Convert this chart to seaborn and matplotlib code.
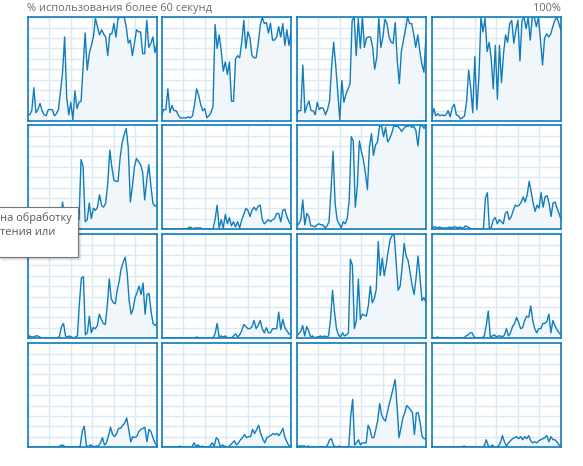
import numpy as np
import pandas as pd
import matplotlib
matplotlib.use("Agg")
import matplotlib.pyplot as plt
import seaborn as sns
from matplotlib.patches import Rectangle

# % загрузки логических процессоров за 60 секунд, по строкам сетки 4x4
cpu0 = [6, 6, 10, 32, 8, 11, 17, 10, 6, 5, 11, 11, 11, 5, 7, 11, 29, 47, 81, 23, 6, 18, 1, 29, 12, 18, 19,
        52, 85, 49, 65, 73, 81, 99, 91, 83, 88, 84, 81, 63, 84, 84, 94, 81, 99, 100, 100, 100, 91, 75,
        78, 63, 75, 88, 86, 86, 65, 65, 97, 71, 75, 81, 66, 75]
cpu1 = [6, 11, 11, 31, 8, 15, 10, 10, 6, 3, 3, 3, 3, 4, 3, 5, 16, 31, 25, 16, 10, 12, 3, 5, 8, 14, 93, 70,
        83, 68, 48, 57, 45, 57, 19, 19, 60, 63, 61, 76, 97, 70, 86, 80, 63, 61, 61, 74, 92, 100, 94, 95,
        85, 94, 78, 78, 81, 91, 81, 94, 73, 88, 73, 86]
cpu2 = [6, 10, 10, 54, 8, 15, 19, 10, 10, 6, 18, 11, 13, 12, 6, 11, 19, 52, 76, 54, 28, 1, 39, 18, 26, 31,
        36, 97, 100, 63, 99, 70, 100, 71, 80, 81, 81, 71, 50, 61, 99, 71, 81, 98, 94, 81, 76, 75, 95, 58,
        36, 67, 78, 88, 100, 94, 94, 84, 71, 83, 67, 55, 47, 83]
cpu3 = [2, 12, 5, 7, 5, 6, 5, 6, 10, 4, 13, 16, 6, 5, 2, 3, 5, 19, 49, 32, 8, 62, 11, 42, 100, 86, 99, 67,
        76, 60, 31, 73, 21, 73, 37, 65, 83, 76, 94, 97, 75, 88, 97, 58, 97, 100, 89, 100, 78, 100, 100,
        91, 100, 78, 54, 80, 84, 81, 84, 91, 97, 100, 94, 87]
cpu4 = [2, 2, 3, 2, 2, 3, 2, 4, 3, 5, 3, 4, 3, 5, 6, 5, 8, 26, 8, 5, 6, 5, 6, 8, 10, 9, 67, 60, 7, 9, 25,
        10, 20, 18, 21, 33, 23, 21, 25, 44, 76, 60, 47, 46, 46, 68, 83, 91, 97, 78, 26, 41, 60, 68, 65,
        62, 55, 28, 47, 62, 42, 25, 22, 23]
cpu5 = [0, 0, 0, 0, 0, 0, 0, 0, 0, 0, 0, 0, 0, 1, 2, 0, 1, 1, 1, 1, 0, 0, 0, 0, 0, 0, 9, 23, 1, 9, 1, 14,
        5, 11, 3, 7, 2, 7, 1, 9, 14, 20, 18, 12, 18, 21, 18, 22, 23, 9, 5, 7, 9, 7, 9, 10, 15, 15, 7,
        18, 19, 12, 7, 4]
cpu6 = [3, 5, 9, 28, 4, 15, 12, 3, 3, 2, 4, 5, 4, 4, 1, 3, 7, 38, 75, 25, 9, 5, 1, 7, 5, 10, 28, 89, 85,
        21, 41, 85, 75, 67, 54, 38, 79, 92, 71, 81, 84, 99, 99, 89, 98, 84, 87, 92, 99, 99, 99, 97, 94,
        97, 99, 99, 100, 98, 99, 95, 80, 99, 100, 97, 100]
cpu7 = [1, 2, 2, 1, 2, 1, 1, 1, 1, 2, 1, 2, 2, 1, 2, 1, 1, 3, 2, 1, 0, 0, 0, 0, 0, 0, 0, 30, 35, 0, 2, 9,
        11, 5, 9, 7, 5, 15, 17, 9, 12, 18, 23, 22, 23, 26, 31, 26, 33, 46, 36, 25, 17, 23, 20, 35, 21,
        31, 32, 25, 12, 25, 26, 20, 15, 9]
cpu8 = [0, 2, 1, 1, 2, 2, 1, 0, 0, 0, 0, 0, 0, 0, 0, 0, 2, 11, 14, 2, 1, 2, 1, 0, 1, 2, 34, 58, 59, 3,
        5, 21, 5, 10, 9, 12, 23, 18, 14, 13, 31, 57, 38, 34, 33, 46, 55, 67, 73, 78, 63, 36, 23, 28, 39,
        44, 50, 42, 53, 23, 42, 43, 26, 14, 12, 14]
cpu9 = [0, 0, 0, 0, 0, 0, 0, 0, 0, 0, 0, 0, 0, 0, 0, 0, 0, 1, 0, 0, 0, 0, 0, 0, 0, 0, 4, 14, 1, 2, 1, 2,
        0, 0, 0, 2, 4, 1, 3, 7, 13, 11, 9, 9, 11, 17, 9, 12, 17, 9, 5, 10, 5, 5, 9, 9, 9, 25, 8, 18, 10,
        7, 4, 3]
cpu10 = [2, 4, 6, 12, 2, 11, 7, 1, 2, 0, 1, 1, 2, 1, 2, 1, 2, 18, 46, 25, 9, 3, 1, 5, 2, 3, 5, 76, 70,
         9, 17, 57, 18, 23, 22, 21, 31, 50, 34, 38, 47, 93, 60, 77, 60, 71, 84, 95, 99, 100, 73, 46, 50,
         68, 91, 79, 75, 63, 51, 42, 58, 79, 58, 36, 39, 34]
cpu11 = [0, 0, 0, 1, 0, 0, 0, 0, 0, 0, 0, 0, 0, 0, 0, 0, 0, 2, 3, 5, 5, 1, 0, 0, 0, 0, 2, 12, 26, 1, 2,
         3, 1, 2, 2, 1, 3, 9, 2, 5, 11, 14, 20, 15, 9, 10, 17, 21, 20, 31, 17, 9, 5, 9, 9, 14, 14, 16,
         23, 5, 17, 12, 8, 5, 3]
cpu12 = [0, 0, 0, 0, 0, 0, 0, 0, 0, 0, 0, 0, 0, 0, 0, 0, 1, 2, 1, 0, 0, 0, 0, 0, 0, 0, 1, 15, 20, 2, 0,
         2, 1, 0, 1, 1, 4, 9, 2, 4, 11, 19, 12, 10, 13, 18, 18, 21, 23, 28, 17, 5, 10, 9, 10, 15, 17,
         18, 19, 5, 17, 15, 9, 4, 1]
cpu13 = [0, 0, 0, 0, 0, 0, 0, 0, 0, 1, 0, 0, 0, 0, 0, 0, 4, 1, 2, 0, 1, 0, 0, 0, 1, 4, 1, 9, 7, 0, 2,
         1, 0, 0, 2, 4, 6, 2, 4, 7, 9, 12, 9, 10, 10, 17, 13, 17, 21, 13, 8, 4, 9, 10, 11, 13, 12, 13,
         11, 14, 18, 9, 5, 1, 1]
cpu14 = [1, 1, 1, 1, 1, 0, 1, 0, 0, 0, 0, 0, 0, 0, 0, 0, 2, 7, 8, 2, 0, 0, 1, 0, 0, 0, 0, 1, 30, 46,
         2, 4, 7, 2, 4, 4, 4, 21, 17, 9, 9, 17, 26, 42, 31, 27, 25, 34, 42, 49, 57, 65, 40, 9, 18, 28,
         33, 40, 38, 36, 33, 12, 33, 33, 23, 10, 8, 8]
cpu15 = [0, 0, 0, 0, 0, 0, 0, 0, 0, 0, 0, 0, 0, 0, 0, 0, 1, 0, 0, 0, 0, 0, 0, 0, 0, 0, 1, 7, 1, 0, 2, 0,
         0, 1, 4, 11, 5, 1, 4, 6, 8, 9, 10, 8, 10, 7, 10, 8, 11, 6, 4, 5, 4, 6, 7, 8, 9, 11, 5, 10, 7,
         7, 5, 2, 1]
cpus = [cpu0, cpu1, cpu2, cpu3, cpu4, cpu5, cpu6, cpu7,
        cpu8, cpu9, cpu10, cpu11, cpu12, cpu13, cpu14, cpu15]

title_left = "% использования более 60 секунд"
title_right = "100%"
tooltip_lines = ["на обработку", "тения или"]

LINE = "#117dbb"
FILL = "#f1f6fa"
GRID = "#d9eaf4"
W, H = 583, 466

sns.set_style("white")
plt.rcParams["font.family"] = ["Open Sans", "DejaVu Sans"]

fig = plt.figure(figsize=(W / 100, H / 100), dpi=100)
fig.patch.set_facecolor("white")

col_left = [27.7, 161.7, 296.7, 431.7]
row_top = [17.3, 125.3, 234.3, 343.3]
pw, ph = 129.3, 103.7

for i, vals in enumerate(cpus):
    r, c = divmod(i, 4)
    ax = fig.add_axes([col_left[c] / W, 1 - (row_top[r] + ph) / H, pw / W, ph / H])
    df = pd.DataFrame({"t": np.linspace(0, 60, len(vals)), "v": vals})
    ax.fill_between(df["t"], df["v"], 0, color=FILL, zorder=1, lw=0)
    sns.lineplot(data=df, x="t", y="v", ax=ax, color=LINE, lw=1.0, zorder=3)
    ax.set_xlim(0, 60)
    ax.set_ylim(0, 100)
    ax.set_xticks(np.arange(0, 61, 10))
    ax.set_yticks(np.arange(0, 101, 10))
    ax.grid(True, color=GRID, lw=1.0, zorder=0)
    ax.set_axisbelow(True)
    ax.tick_params(length=0, labelbottom=False, labelleft=False)
    ax.set_xlabel(""); ax.set_ylabel("")
    for s in ax.spines.values():
        s.set_color(LINE); s.set_linewidth(1.2); s.set_visible(True)

fig.text(27 / W, 1 - 8.5 / H, title_left, ha="left", va="center", fontsize=7.9, color="#6a6a6a")
fig.text(561 / W, 1 - 8.5 / H, title_right, ha="right", va="center", fontsize=7.9, color="#6a6a6a")

# всплывающая подсказка поверх графиков
tx0, ty0, tx1, ty1 = -2, 207, 78, 257
for k, a in enumerate([0.10, 0.08, 0.06, 0.04]):
    fig.patches.append(Rectangle(((tx0 + 1 + k) / W, 1 - (ty1 + 1 + k) / H), (tx1 - tx0) / W, (ty1 - ty0) / H,
                                 transform=fig.transFigure, facecolor="black", alpha=a, lw=0, zorder=9))
fig.patches.append(Rectangle((tx0 / W, 1 - ty1 / H), (tx1 - tx0) / W, (ty1 - ty0) / H,
                             transform=fig.transFigure, facecolor="white", edgecolor="#767676",
                             lw=0.8, zorder=10))
for k, line in enumerate(tooltip_lines):
    fig.text(0 / W, 1 - (218 + 14 * k) / H, line, ha="left", va="center", fontsize=7.9,
             color="#575757", zorder=11)

fig.savefig("out.png", dpi=100)
